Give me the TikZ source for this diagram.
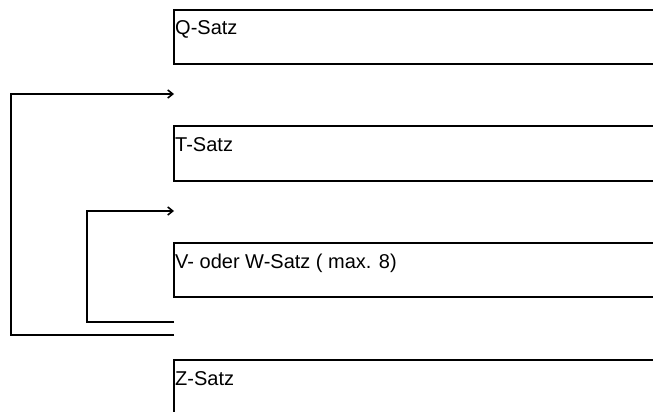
\documentclass[tikz,border=0pt]{standalone}
\usepackage{fontspec}
\setmainfont{Liberation Sans}
\usetikzlibrary{arrows.meta,calc}
\begin{document}
\begin{tikzpicture}[x=1pt,y=-1pt,
  box/.style={draw,line width=2pt,rectangle,minimum width=500pt,inner sep=0pt,anchor=north west},
  txt/.style={anchor=base west,inner sep=0pt,font=\fontsize{20}{24}\selectfont},
  conn/.style={line width=2pt},
  tip/.style={-{Straight Barb[length=5pt,width=8pt,line width=1.6pt]}}]
\useasboundingbox (0,0) rectangle (653,412);
\clip (0,0) rectangle (653,412);
\node[box,minimum height=54pt] (q) at (173,9) {};
\node[box,minimum height=55pt] (t) at (173,125) {};
\node[box,minimum height=54pt] (v) at (173,242) {};
\node[box,minimum height=80pt] (z) at (173,359) {};
\node[txt] (qt) at ([shift={(2,26)}]q.north west) {Q-Satz};
\node[txt] (tt) at ([shift={(2,26)}]t.north west) {T-Satz};
\node[txt] (vt) at ([shift={(2,26)}]v.north west) {V- oder W-Satz ( max. 8)};
\node[txt] (zt) at ([shift={(2,26)}]z.north west) {Z-Satz};
\coordinate (os) at (174,335);
\coordinate (oc) at (11,94);
\coordinate (oe) at (174,94);
\coordinate (is) at (174,322);
\coordinate (ic) at (87,211);
\coordinate (ie) at (174,211);
\draw[conn,tip] (os) -| (oc) -- (oe);
\draw[conn,tip] (is) -| (ic) -- (ie);
\end{tikzpicture}
\end{document}
